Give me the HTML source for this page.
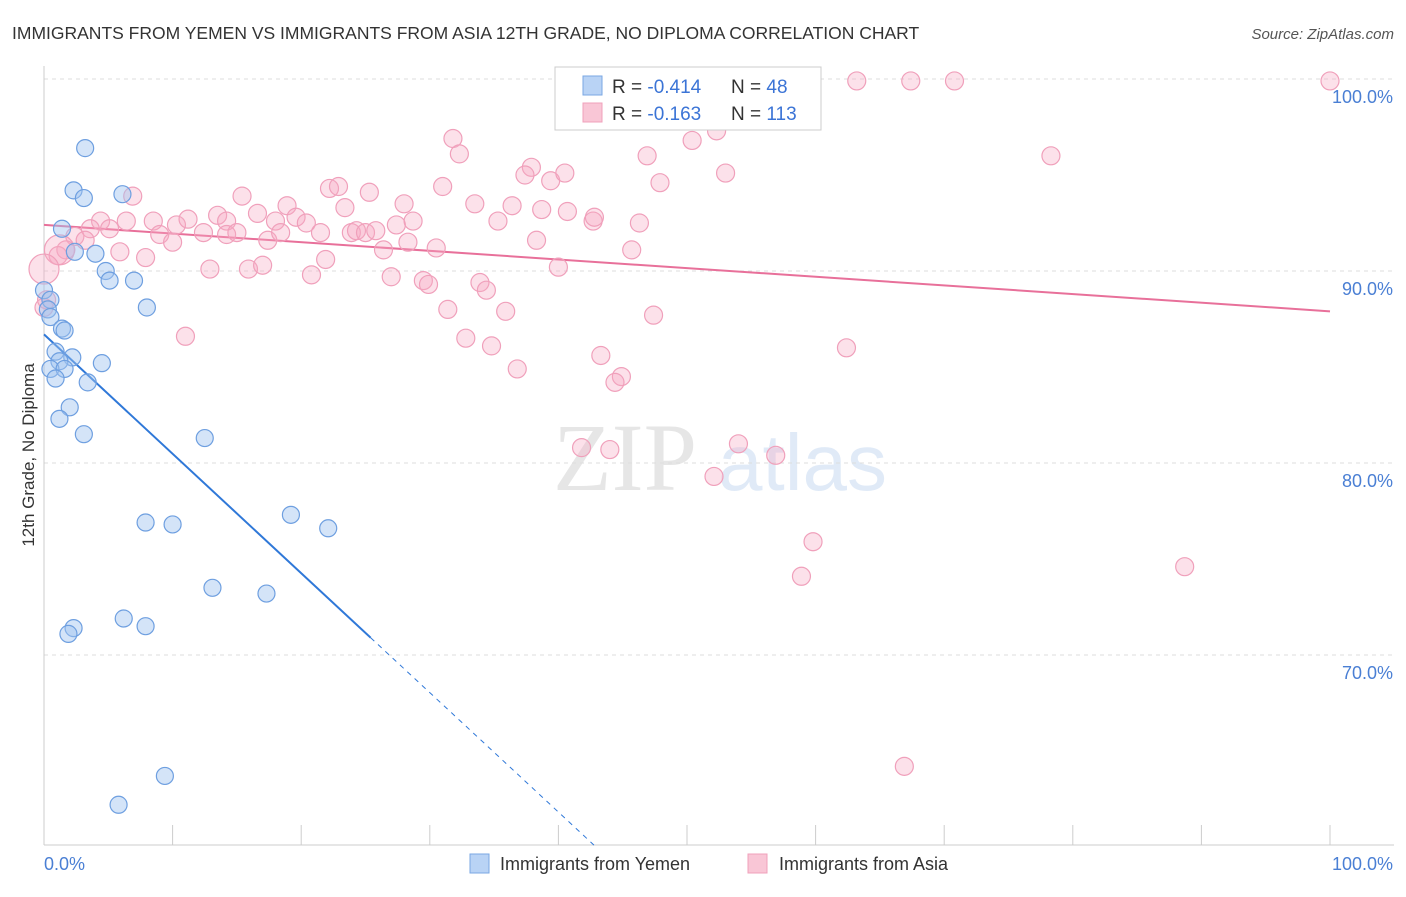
<!DOCTYPE html>
<html><head><meta charset="utf-8"><style>
body{margin:0;background:#fff;width:1406px;height:892px;overflow:hidden;font-family:"Liberation Sans",sans-serif}
</style></head><body>
<svg id="chart" width="1406" height="892" xmlns="http://www.w3.org/2000/svg" font-family="Liberation Sans, sans-serif">
<text x="12" y="39" font-size="17.5" fill="#333">IMMIGRANTS FROM YEMEN VS IMMIGRANTS FROM ASIA 12TH GRADE, NO DIPLOMA CORRELATION CHART</text>
<text x="1394" y="39" font-size="15" fill="#555" text-anchor="end" font-style="italic">Source: ZipAtlas.com</text>
<text transform="translate(34,455) rotate(-90)" font-size="17" fill="#333" text-anchor="middle">12th Grade, No Diploma</text>
<g opacity="0.35">
<text x="553" y="490" font-size="96" font-family="Liberation Serif, serif" fill="#b8b8b8">ZIP</text>
<text x="718" y="490" font-size="80" fill="#a9c6ea">atlas</text>
</g>
<g id="grid"></g><g id="axes"></g><g id="lines"></g><g id="pts"></g>
<g>
<rect x="555" y="67" width="266" height="63" fill="#fff" stroke="#ccc"/>
<rect x="583" y="76" width="19" height="19" fill="#b9d3f5" stroke="#7aa7e3"/>
<rect x="583" y="103" width="19" height="19" fill="#f9c6d6" stroke="#f0a0bb"/>
<text x="612" y="93" font-size="19" fill="#333">R = <tspan fill="#3b74d6">-0.414</tspan><tspan x="731">N = </tspan><tspan fill="#3b74d6">48</tspan></text>
<text x="612" y="120" font-size="19" fill="#333">R = <tspan fill="#3b74d6">-0.163</tspan><tspan x="731">N = </tspan><tspan fill="#3b74d6">113</tspan></text>
</g>
<g>
<rect x="470" y="854" width="19" height="19" fill="#b9d3f5" stroke="#7aa7e3"/>
<text x="500" y="870" font-size="18" fill="#333">Immigrants from Yemen</text>
<rect x="748" y="854" width="19" height="19" fill="#f9c6d6" stroke="#f0a0bb"/>
<text x="779" y="870" font-size="18" fill="#333">Immigrants from Asia</text>
</g>
</svg>
<script>
const yTicks=[100,90,80,70];
const yTickLabels=["100.0%","90.0%","80.0%","70.0%"];
const xTickVals=[0,10,20,30,40,50,60,70,80,90,100];
const blueX=[3.2,2.3,3.1,6.1,1.4,2.4,4.0,4.8,5.1,7.0,8.0,0,0.5,0.3,0.5,1.4,1.6,0.9,2.2,1.2,4.5,0.5,1.6,0.9,3.4,2.0,1.2,3.1,12.5,7.9,10.0,19.2,22.1,13.1,17.3,6.2,7.9,2.3,1.9,9.4,5.8];
const blueY=[96.4,94.2,93.8,94.0,92.2,91.0,90.9,90.0,89.5,89.5,88.1,89.0,88.5,88.0,87.6,87.0,86.9,85.8,85.5,85.3,85.2,84.9,84.9,84.4,84.2,82.9,82.3,81.5,81.3,76.9,76.8,77.3,76.6,73.5,73.2,71.9,71.5,71.4,71.1,63.7,62.2];
const pinkX=[53.6,63.2,67.4,70.8,100,31.8,32.3,52.3,50.4,46.9,78.3,37.9,37.4,39.4,40.5,53.0,47.9,31.0,22.2,22.9,25.3,28.0,33.5,36.4,38.7,40.7,6.9,15.4,18.9,23.4,4.4,6.4,8.5,10.3,11.2,13.5,14.2,16.6,18.0,19.6,20.4,21.5,23.9,24.3,25.0,25.8,27.4,28.7,35.3,42.7,42.8,46.3,3.6,5.1,9.0,10.0,12.4,14.2,15.0,17.4,18.4,28.3,30.5,26.4,38.3,45.7,2.4,3.2,1.7,1.1,5.9,7.9,12.9,15.9,17.0,20.8,21.9,27.0,29.5,29.9,33.9,34.4,40.0,31.4,35.9,47.4,11.0,32.8,34.8,43.3,62.4,36.8,44.9,44.4,41.8,44.0,54.0,56.9,52.1,59.8,58.9,88.7,66.9,0,0.2,1.2,0];
const pinkY=[99.9,99.9,99.9,99.9,99.9,96.9,96.1,97.3,96.8,96.0,96.0,95.4,95.0,94.7,95.1,95.1,94.6,94.4,94.3,94.4,94.1,93.5,93.5,93.4,93.2,93.1,93.9,93.9,93.4,93.3,92.6,92.6,92.6,92.4,92.7,92.9,92.6,93.0,92.6,92.8,92.5,92.0,92.0,92.1,92.0,92.1,92.4,92.6,92.6,92.6,92.8,92.5,92.2,92.2,91.9,91.5,92.0,91.9,92.0,91.6,92.0,91.5,91.2,91.1,91.6,91.1,91.8,91.6,91.1,90.8,91.0,90.7,90.1,90.1,90.3,89.8,90.6,89.7,89.5,89.3,89.4,89.0,90.2,88.0,87.9,87.7,86.6,86.5,86.1,85.6,86.0,84.9,84.5,84.2,80.8,80.7,81.0,80.4,79.3,75.9,74.1,74.6,64.2,88.1,88.5,91.1,90.1];
const blueFit=[86.7,-0.622];
const pinkFit=[92.4,-0.045];
const blueSolidEnd=25.4;
const NS="http://www.w3.org/2000/svg";
const X0=44,X1=1330,Y100=79,PX10=192;
function sx(v){return X0+(X1-X0)*v/100;}
function sy(v){return Y100+(100-v)*PX10/10;}
function mk(tag,attrs,parent){const e=document.createElementNS(NS,tag);for(const k in attrs)e.setAttribute(k,attrs[k]);document.getElementById(parent).appendChild(e);return e;}
yTicks.forEach((t,i)=>{
 const l=mk('line',{x1:X0,x2:1394,y1:sy(t),y2:sy(t),stroke:'#ddd','stroke-dasharray':'4,4'},'grid');
 
 
 const tx=mk('text',{x:1393,y:sy(t)+24,'font-size':18,fill:'#4a7fd4','text-anchor':'end'},'grid');
 tx.textContent=yTickLabels[i];
 
 
});
const ax=mk('line',{x1:X0,x2:X0,y1:66,y2:845,stroke:'#ccc'},'axes');


const bx=mk('line',{x1:X0,x2:1394,y1:845,y2:845,stroke:'#ccc'},'axes');


xTickVals.forEach(v=>{
 const t=mk('line',{x1:sx(v),x2:sx(v),y1:825,y2:845,stroke:'#ccc'},'axes');
 
 
});
const xl0=mk('text',{x:44,y:870,'font-size':18,fill:'#4a7fd4'},'axes');xl0.textContent='0.0%';


const xl1=mk('text',{x:1393,y:870,'font-size':18,fill:'#4a7fd4','text-anchor':'end'},'axes');xl1.textContent='100.0%';


pinkX.forEach((v,i)=>{
 const big=(i>=pinkX.length-2);
 const c=mk('circle',{cx:sx(v),cy:sy(pinkY[i]),r:big?15:9,fill:'rgba(245,170,195,0.35)',stroke:'#f0a0bb','stroke-width':1.2},'pts');
 
 
});
blueX.forEach((v,i)=>{
 const c=mk('circle',{cx:sx(v),cy:sy(blueY[i]),r:8.5,fill:'rgba(160,195,240,0.45)',stroke:'#6e9fe0','stroke-width':1.2},'pts');
 
 
});
const pl=mk('line',{x1:sx(0),y1:sy(pinkFit[0]),x2:sx(100),y2:sy(pinkFit[0]+pinkFit[1]*100),stroke:'#e8709a','stroke-width':2},'lines');


const bl=mk('line',{x1:sx(0),y1:sy(blueFit[0]),x2:sx(blueSolidEnd),y2:sy(blueFit[0]+blueFit[1]*blueSolidEnd),stroke:'#2f78d8','stroke-width':2},'lines');


const yEnd=sy(0)>845?60.1:60.1;
const xEnd=(blueFit[0]-yEnd)/(-blueFit[1]);
const bd=mk('line',{x1:sx(blueSolidEnd),y1:sy(blueFit[0]+blueFit[1]*blueSolidEnd),x2:sx(xEnd),y2:sy(blueFit[0]+blueFit[1]*xEnd),stroke:'#2f78d8','stroke-width':1,'stroke-dasharray':'5,5'},'lines');


</script>
</body></html>
